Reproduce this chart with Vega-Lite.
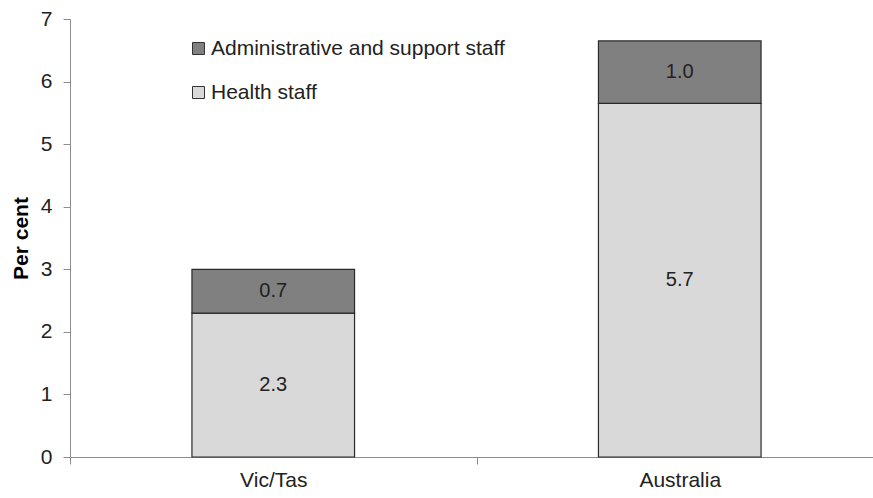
{
  "$schema": "https://vega.github.io/schema/vega-lite/v6.json",
  "autosize": {"type": "none"},
  "width": 803,
  "height": 438,
  "padding": {"left": 70, "top": 19, "right": 0, "bottom": 41},
  "background": "white",
  "config": {
    "font": "Liberation Sans",
    "view": {"stroke": null}
  },
  "data": {
    "values": [
      {"region": "Vic/Tas", "series": "Health staff", "value": 2.3, "label": "2.3"},
      {"region": "Vic/Tas", "series": "Administrative and support staff", "value": 0.7, "label": "0.7"},
      {"region": "Australia", "series": "Health staff", "value": 5.65, "label": "5.7"},
      {"region": "Australia", "series": "Administrative and support staff", "value": 1.0, "label": "1.0"}
    ]
  },
  "encoding": {
    "x": {
      "field": "region",
      "type": "nominal",
      "sort": ["Vic/Tas", "Australia"],
      "scale": {"range": [0, 813], "paddingInner": 0, "paddingOuter": 0},
      "axis": {
        "title": null,
        "labelAngle": 0,
        "labelFont": "Liberation Sans",
        "labelFontSize": 21,
        "labelColor": "#222222",
        "labelPadding": 5,
        "domainColor": "#8c8c8c",
        "tickColor": "#8c8c8c",
        "tickSize": 7,
        "tickBand": "extent"
      }
    }
  },
  "layer": [
    {
      "mark": {"type": "bar", "width": {"band": 0.4}, "stroke": "#2a2a2a", "strokeWidth": 1.2},
      "encoding": {
        "y": {
          "field": "value",
          "type": "quantitative",
          "stack": "zero",
          "scale": {"domain": [0, 7], "nice": false},
          "axis": {
            "title": "Per cent",
            "titleFont": "Liberation Sans",
            "titleFontSize": 21,
            "titleFontWeight": "bold",
            "titleColor": "#000000",
            "titleX": -43,
            "titleY": 219,
            "titleAngle": -90,
            "titleAlign": "center",
            "titleBaseline": "alphabetic",
            "values": [0, 1, 2, 3, 4, 5, 6, 7],
            "format": "d",
            "labelFont": "Liberation Sans",
            "labelFontSize": 21,
            "labelColor": "#222222",
            "labelPadding": 11,
            "grid": false,
            "domainColor": "#8c8c8c",
            "tickColor": "#8c8c8c",
            "tickSize": 7
          }
        },
        "color": {
          "field": "series",
          "type": "nominal",
          "scale": {
            "domain": ["Administrative and support staff", "Health staff"],
            "range": ["#808080", "#d9d9d9"]
          },
          "legend": {
            "title": null,
            "orient": "none",
            "legendX": 118,
            "legendY": 19,
            "symbolType": "square",
            "symbolSize": 144,
            "symbolStrokeColor": "#333333",
            "symbolStrokeWidth": 1,
            "labelFont": "Liberation Sans",
            "labelFontSize": 21,
            "labelColor": "#222222",
            "labelOffset": 2,
            "labelLimit": 400,
            "rowPadding": 22
          }
        },
        "order": {"field": "series", "sort": "descending"}
      }
    },
    {
      "mark": {"type": "text", "font": "Liberation Sans", "fontSize": 20, "color": "#222222", "baseline": "middle"},
      "encoding": {
        "y": {"field": "value", "type": "quantitative", "stack": "zero", "bandPosition": 0.5},
        "detail": {"field": "series"},
        "order": {"field": "series", "sort": "descending"},
        "text": {"field": "label"}
      }
    }
  ]
}
